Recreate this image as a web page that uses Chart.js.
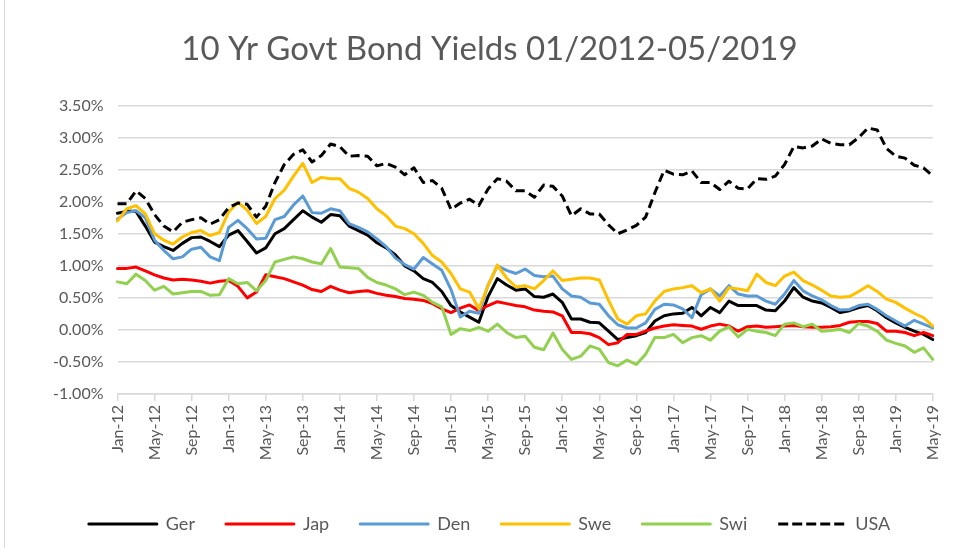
<!DOCTYPE html>
<html>
<head>
<meta charset="utf-8">
<script src="https://cdn.jsdelivr.net/npm/chart.js@4.4.1/dist/chart.umd.min.js"></script>
<style>
    html, body { margin: 0; padding: 0; background: #ffffff; }
    #wrap { position: relative; width: 956px; height: 556px; }
</style>
</head>
<body>
<div id="wrap"><canvas id="yieldChart"></canvas></div>
<script>
const months = [
    "Jan-12", "Feb-12", "Mar-12", "Apr-12", "May-12", "Jun-12", "Jul-12", "Aug-12", "Sep-12", "Oct-12", "Nov-12", "Dec-12",
    "Jan-13", "Feb-13", "Mar-13", "Apr-13", "May-13", "Jun-13", "Jul-13", "Aug-13", "Sep-13", "Oct-13", "Nov-13", "Dec-13",
    "Jan-14", "Feb-14", "Mar-14", "Apr-14", "May-14", "Jun-14", "Jul-14", "Aug-14", "Sep-14", "Oct-14", "Nov-14", "Dec-14",
    "Jan-15", "Feb-15", "Mar-15", "Apr-15", "May-15", "Jun-15", "Jul-15", "Aug-15", "Sep-15", "Oct-15", "Nov-15", "Dec-15",
    "Jan-16", "Feb-16", "Mar-16", "Apr-16", "May-16", "Jun-16", "Jul-16", "Aug-16", "Sep-16", "Oct-16", "Nov-16", "Dec-16",
    "Jan-17", "Feb-17", "Mar-17", "Apr-17", "May-17", "Jun-17", "Jul-17", "Aug-17", "Sep-17", "Oct-17", "Nov-17", "Dec-17",
    "Jan-18", "Feb-18", "Mar-18", "Apr-18", "May-18", "Jun-18", "Jul-18", "Aug-18", "Sep-18", "Oct-18", "Nov-18", "Dec-18",
    "Jan-19", "Feb-19", "Mar-19", "Apr-19", "May-19",
];

const ger = [
    1.82, 1.85, 1.85, 1.62, 1.37, 1.30, 1.24, 1.35, 1.44, 1.45, 1.38, 1.30,
    1.48, 1.55, 1.38, 1.20, 1.28, 1.50, 1.58, 1.72, 1.86, 1.76, 1.68, 1.80,
    1.78, 1.62, 1.55, 1.48, 1.36, 1.28, 1.17, 1.00, 0.92, 0.80, 0.74, 0.60,
    0.38, 0.28, 0.20, 0.12, 0.52, 0.80, 0.70, 0.62, 0.64, 0.52, 0.51, 0.56,
    0.43, 0.17, 0.17, 0.12, 0.11, -0.02, -0.15, -0.12, -0.09, -0.04, 0.14, 0.22,
    0.25, 0.26, 0.35, 0.22, 0.35, 0.27, 0.45, 0.38, 0.38, 0.38, 0.31, 0.30,
    0.45, 0.66, 0.51, 0.45, 0.42, 0.35, 0.27, 0.30, 0.35, 0.38, 0.30, 0.19,
    0.11, 0.04, -0.02, -0.07, -0.15,
];

const jap = [
    0.96, 0.96, 0.98, 0.92, 0.86, 0.81, 0.78, 0.79, 0.78, 0.76, 0.73, 0.76,
    0.77, 0.68, 0.50, 0.59, 0.86, 0.83, 0.80, 0.75, 0.70, 0.63, 0.60, 0.68,
    0.62, 0.58, 0.60, 0.61, 0.57, 0.54, 0.52, 0.49, 0.48, 0.46, 0.41, 0.33,
    0.27, 0.34, 0.39, 0.30, 0.38, 0.44, 0.41, 0.38, 0.36, 0.31, 0.29, 0.28,
    0.22, -0.04, -0.04, -0.06, -0.12, -0.23, -0.20, -0.07, -0.07, -0.02, 0.03, 0.06,
    0.08, 0.07, 0.06, 0.01, 0.06, 0.09, 0.06, -0.02, 0.05, 0.06, 0.04, 0.05,
    0.06, 0.07, 0.05, 0.04, 0.04, 0.05, 0.07, 0.12, 0.13, 0.13, 0.10, -0.02,
    -0.02, -0.04, -0.09, -0.04, -0.09,
];

const den = [
    1.73, 1.83, 1.86, 1.75, 1.40, 1.24, 1.11, 1.14, 1.26, 1.29, 1.14, 1.08,
    1.60, 1.71, 1.58, 1.42, 1.43, 1.72, 1.77, 1.95, 2.09, 1.83, 1.82, 1.89,
    1.86, 1.66, 1.60, 1.53, 1.42, 1.30, 1.12, 1.02, 0.95, 1.13, 1.03, 0.93,
    0.63, 0.20, 0.29, 0.26, 0.70, 1.00, 0.93, 0.88, 0.95, 0.85, 0.83, 0.84,
    0.64, 0.53, 0.51, 0.42, 0.40, 0.22, 0.08, 0.03, 0.03, 0.11, 0.32, 0.40,
    0.39, 0.33, 0.19, 0.55, 0.64, 0.53, 0.69, 0.56, 0.53, 0.53, 0.45, 0.40,
    0.56, 0.77, 0.61, 0.53, 0.47, 0.38, 0.31, 0.32, 0.38, 0.40, 0.32, 0.22,
    0.14, 0.06, 0.15, 0.09, 0.03,
];

const swe = [
    1.70, 1.89, 1.94, 1.81, 1.50, 1.40, 1.34, 1.45, 1.52, 1.55, 1.47, 1.52,
    1.84, 1.99, 1.87, 1.66, 1.77, 2.05, 2.18, 2.40, 2.60, 2.30, 2.38, 2.36,
    2.36, 2.21, 2.15, 2.05, 1.89, 1.78, 1.62, 1.58, 1.50, 1.35, 1.16, 1.06,
    0.88, 0.64, 0.59, 0.33, 0.69, 1.01, 0.81, 0.67, 0.69, 0.64, 0.77, 0.92,
    0.77, 0.79, 0.81, 0.81, 0.78, 0.46, 0.17, 0.09, 0.22, 0.25, 0.45, 0.60,
    0.64, 0.66, 0.69, 0.58, 0.64, 0.45, 0.66, 0.64, 0.61, 0.87, 0.74, 0.69,
    0.84, 0.90, 0.77, 0.70, 0.62, 0.53, 0.51, 0.52, 0.60, 0.69, 0.60, 0.48,
    0.43, 0.34, 0.26, 0.19, 0.06,
];

const swi = [
    0.75, 0.72, 0.87, 0.77, 0.62, 0.68, 0.56, 0.58, 0.60, 0.60, 0.54, 0.55,
    0.80, 0.72, 0.74, 0.61, 0.77, 1.06, 1.10, 1.14, 1.11, 1.06, 1.03, 1.27,
    0.98, 0.97, 0.96, 0.82, 0.74, 0.70, 0.64, 0.55, 0.59, 0.54, 0.43, 0.36,
    -0.07, 0.02, -0.01, 0.04, -0.02, 0.09, -0.04, -0.12, -0.10, -0.27, -0.31, -0.05,
    -0.30, -0.46, -0.41, -0.25, -0.30, -0.51, -0.56, -0.47, -0.54, -0.38, -0.12, -0.12,
    -0.07, -0.20, -0.12, -0.09, -0.16, -0.02, 0.05, -0.11, 0.01, -0.02, -0.04, -0.09,
    0.09, 0.11, 0.05, 0.09, -0.02, -0.01, 0.01, -0.04, 0.10, 0.06, -0.02, -0.16,
    -0.21, -0.25, -0.35, -0.28, -0.46,
];

const usa = [
    1.97, 1.97, 2.17, 2.05, 1.80, 1.62, 1.53, 1.68, 1.72, 1.75, 1.65, 1.72,
    1.91, 1.98, 1.96, 1.76, 1.93, 2.30, 2.58, 2.74, 2.81, 2.62, 2.72, 2.90,
    2.86, 2.71, 2.72, 2.71, 2.56, 2.60, 2.54, 2.42, 2.53, 2.30, 2.33, 2.21,
    1.88, 1.98, 2.04, 1.94, 2.20, 2.36, 2.32, 2.17, 2.17, 2.07, 2.26, 2.24,
    2.09, 1.78, 1.89, 1.81, 1.81, 1.64, 1.50, 1.56, 1.63, 1.76, 2.14, 2.49,
    2.43, 2.42, 2.48, 2.30, 2.30, 2.19, 2.32, 2.21, 2.20, 2.36, 2.35, 2.40,
    2.58, 2.86, 2.84, 2.87, 2.98, 2.91, 2.89, 2.89, 3.00, 3.15, 3.12, 2.83,
    2.71, 2.68, 2.57, 2.53, 2.40,
];

const textColor = "#595959";
const gridColor = "#d9d9d9";
const fontFamily = "Lato, 'Open Sans', sans-serif";

function series(label, data, color, index, dash) {
    return {
        label: label,
        data: data,
        borderColor: color,
        backgroundColor: "rgba(0,0,0,0)",
        borderWidth: 3,
        borderDash: dash || [],
        borderCapStyle: dash ? "butt" : "round",
        borderJoinStyle: "round",
        pointRadius: 0,
        tension: 0,
        order: 5 - index,
    };
}

// thin frame line on the left edge, like the Excel chart area border
const frameLine = {
    id: "frameLine",
    beforeDraw(chart) {
        const ctx = chart.ctx;
        ctx.save();
        ctx.strokeStyle = gridColor;
        ctx.lineWidth = 1;
        ctx.beginPath();
        ctx.moveTo(4.5, 0);
        ctx.lineTo(4.5, 548);
        ctx.stroke();
        ctx.restore();
    },
};

new Chart(document.getElementById("yieldChart"), {
    type: "line",
    data: {
        labels: months,
        datasets: [
            series("Ger", ger, "#000000", 0),
            series("Jap", jap, "#ff0000", 1),
            series("Den", den, "#5b9bd5", 2),
            series("Swe", swe, "#ffc000", 3),
            series("Swi", swi, "#92d050", 4),
            series("USA", usa, "#000000", 5, [9, 5]),
        ],
    },
    plugins: [frameLine],
    options: {
        responsive: true,
        maintainAspectRatio: false,
        animation: false,
        layout: { padding: { left: 46, right: 23, top: 0, bottom: 13 } },
        plugins: {
            title: {
                display: true,
                text: "10 Yr Govt Bond Yields 01/2012-05/2019",
                color: textColor,
                font: { family: fontFamily, size: 33, weight: "normal" },
                padding: { top: 30, bottom: 36 },
            },
            legend: {
                position: "bottom",
                labels: {
                    boxWidth: 68,
                    boxHeight: 0,
                    padding: 31,
                    color: textColor,
                    font: { family: fontFamily, size: 18 },
                    sort: (a, b) => a.datasetIndex - b.datasetIndex,
                },
            },
            tooltip: { enabled: false },
        },
        scales: {
            x: {
                offset: false,
                grid: {
                    display: true,
                    drawOnChartArea: false,
                    drawTicks: true,
                    tickLength: 7,
                    color: gridColor,
                    lineWidth: 1.5,
                },
                border: { display: true, color: gridColor, width: 1.5 },
                ticks: {
                    autoSkip: false,
                    minRotation: 90,
                    maxRotation: 90,
                    padding: 4,
                    color: textColor,
                    font: { family: fontFamily, size: 16 },
                    callback: (value, index) => (index % 4 === 0 ? months[index] : null),
                },
                afterFit: (axis) => { axis.height = 90; },
            },
            y: {
                min: -1,
                max: 3.5,
                grid: { color: gridColor, lineWidth: 1.5, drawTicks: false },
                border: { display: false },
                ticks: {
                    stepSize: 0.5,
                    padding: 14,
                    color: textColor,
                    font: { family: fontFamily, size: 16 },
                    callback: (value) => value.toFixed(2) + "%",
                },
                afterFit: (axis) => { axis.width = 71.5; },
            },
        },
    },
});
</script>
</body>
</html>
